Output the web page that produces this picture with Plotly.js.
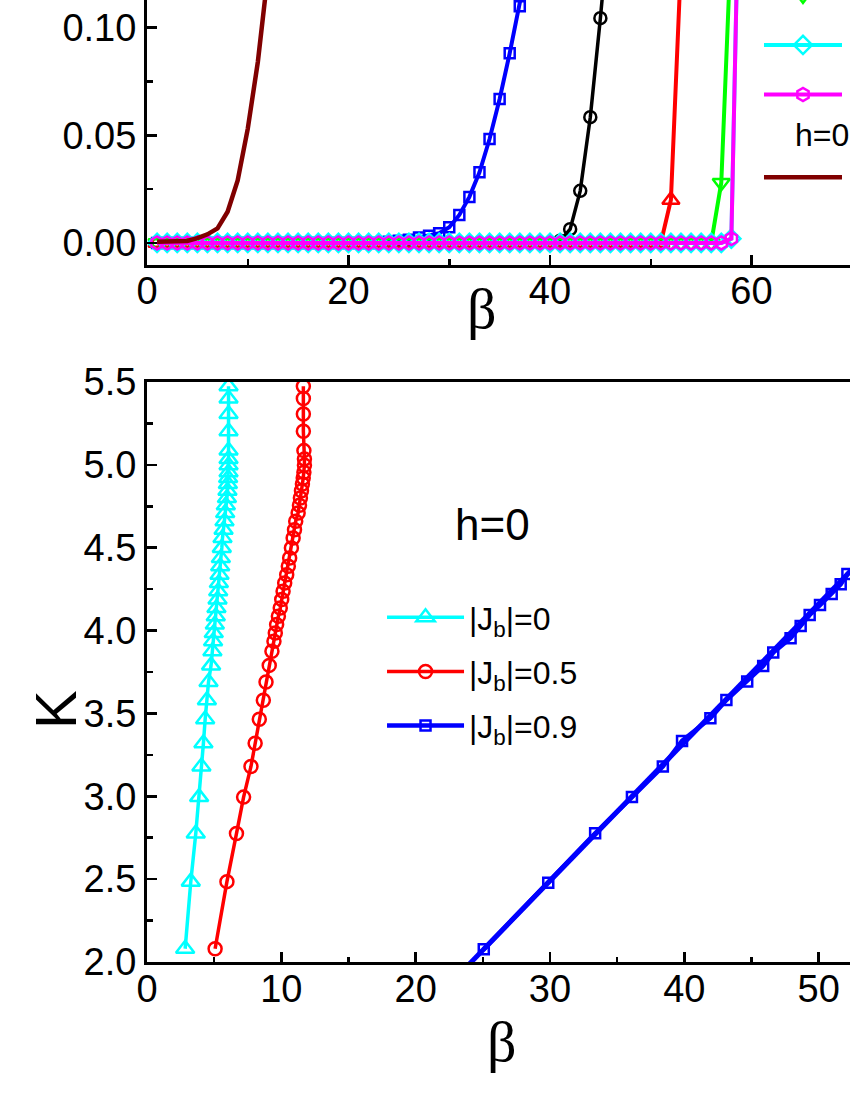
<!DOCTYPE html>
<html>
<head>
<meta charset="utf-8">
<script src="https://cdn.plot.ly/plotly-3.0.1.min.js"></script>
<style>
  html, body { margin: 0; padding: 0; overflow: hidden; background: #fff; }
  #plotDiv { position: absolute; left: 0; top: -10px; }
</style>
</head>
<body>
<div id="plotDiv"></div>
<script>
// ---- top panel: order parameter vs beta (integer beta steps) ----
var betaTop = [1,2,3,4,5,6,7,8,9,10,11,12,13,14,15,16,17,18,19,20,
  21,22,23,24,25,26,27,28,29,30,31,32,33,34,35,36,37,38,39,40,
  41,42,43,44,45,46,47,48,49,50,51,52,53,54,55,56,57,58,59];

var blueTop = [0,0,0,0,0,0,0,0,0,0,0,0,0,0,0,0,0,0,0,0,0,0,0,
  0.0005,0.001,0.0015,0.0025,0.0034,0.0045,0.0073,0.0130,0.0214,0.0328,0.0483,0.0669,0.0881,0.110,0.135];
var blackTop = [0,0,0,0,0,0,0,0,0,0,0,0,0,0,0,0,0,0,0,0,
  0,0,0,0,0,0,0,0,0,0,0,0,0,0,0,0,0,0,0,0,
  0.001,0.0064,0.0242,0.0584,0.1044,0.155];
var redTop = [0,0,0,0,0,0,0,0,0,0,0,0,0,0,0,0,0,0,0,0,
  0,0,0,0,0,0,0,0,0,0,0,0,0,0,0,0,0,0,0,0,
  0,0,0,0,0,0,0,0,0,0,0,0.020,0.13];
var greenTop = [0,0,0,0,0,0,0,0,0,0,0,0,0,0,0,0,0,0,0,0,
  0,0,0,0,0,0,0,0,0,0,0,0,0,0,0,0,0,0,0,0,
  0,0,0,0,0,0,0,0,0,0,0,0,0,0,0,0,0.028,0.143];
var cyanTop = [0,0,0,0,0,0,0,0,0,0,0,0,0,0,0,0,0,0,0,0,
  0,0,0,0,0,0,0,0,0,0,0,0,0,0,0,0,0,0,0,0,
  0,0,0,0,0,0,0,0,0,0,0,0,0,0,0,0,0,0.002,0.225];
var magentaTop = [0,0,0,0,0,0,0,0,0,0,0,0,0,0,0,0,0,0,0,0,
  0,0,0,0,0,0,0,0,0,0,0,0,0,0,0,0,0,0,0,0,
  0,0,0,0,0,0,0,0,0,0,0,0,0,0,0,0,0,0.002,0.225];
var darkRedTop = [0.0005,0.0005,0.0006,0.0009,0.0022,0.0040,0.0068,0.0145,0.0290,0.0530,0.0840,0.125];

// ---- bottom panel: K vs beta ----
var kCyan = [2.08,2.485,2.775,2.995,3.18,3.32,3.465,3.58,3.69,3.79,3.875,3.935,3.985,4.036,4.086,
  4.136,4.187,4.237,4.287,4.337,4.388,4.438,4.499,4.559,4.609,4.66,4.71,4.756,4.80,4.844,
  4.885,4.921,4.955,4.998,5.036,5.086,5.203,5.307,5.40,5.474];
var betaCyan = [2.84,3.26,3.63,3.88,4.05,4.20,4.33,4.46,4.58,4.77,4.87,4.92,4.97,5.05,5.12,
  5.17,5.25,5.30,5.35,5.40,5.45,5.50,5.57,5.62,5.70,5.77,5.82,5.87,5.95,5.99,
  6.02,6.04,6.07,6.07,6.07,6.07,6.07,6.07,6.07,6.07];
var kRed = kCyan;
var betaRed = [5.07,5.95,6.66,7.19,7.74,8.05,8.36,8.66,8.86,9.10,9.30,9.45,9.55,9.65,9.78,
  9.92,10.03,10.13,10.25,10.40,10.52,10.62,10.75,10.88,10.98,11.07,11.25,11.35,11.42,11.50,
  11.57,11.63,11.68,11.72,11.72,11.68,11.64,11.64,11.64,11.64];
var kBlue = [2.077,2.479,2.777,2.995,3.18,3.334,3.471,3.581,3.692,3.786,3.867,3.954,4.028,4.094,
  4.154,4.221,4.279,4.341,4.40,4.45];
var betaBlue = [25.07,29.87,33.36,36.1,38.4,39.83,41.94,43.13,44.68,45.87,46.62,47.91,48.66,49.33,
  50.1,50.97,51.64,52.14,52.8,53.4];
var fitBeta = [24.0, 60.0];
var fitK = [1.988, 4.997];

var legendNames = ['|J<sub>b</sub>|=0', '|J<sub>b</sub>|=0.5', '|J<sub>b</sub>|=0.9'];

function topTrace(y, color, symbol, size, lw, legend) {
  return {
    x: betaTop.slice(0, y.length), y: y, xaxis: 'x', yaxis: 'y',
    type: 'scatter', mode: 'lines+markers', name: '&nbsp;',
    line: {color: color, width: lw},
    marker: {symbol: symbol, size: size, color: color, line: {color: color, width: 2.5}},
    showlegend: !!legend, legend: legend || 'legend', legendgroup: color
  };
}

var data = [
  topTrace(blueTop, '#0000ff', 'square-open', 10, 4, null),
  topTrace(blackTop, '#000000', 'circle-open', 12, 3.5, null),
  topTrace(redTop, '#ff0000', 'triangle-up-open', 15, 4, null),
  topTrace(greenTop, '#00ff00', 'triangle-down-open', 15, 4, 'legend'),
  topTrace(cyanTop, '#00ffff', 'diamond-open', 14, 4, 'legend'),
  topTrace(magentaTop, '#ff00ff', 'hexagon-open', 13, 4, 'legend'),
  {
    x: betaTop.slice(0, darkRedTop.length), y: darkRedTop, xaxis: 'x', yaxis: 'y',
    type: 'scatter', mode: 'lines', name: '&nbsp;',
    line: {color: '#800000', width: 4.5}, legend: 'legend3'
  },
  {
    x: fitBeta, y: fitK, xaxis: 'x2', yaxis: 'y2', type: 'scatter', mode: 'lines',
    line: {color: '#0000ff', width: 5}, showlegend: false
  },
  {
    x: betaCyan, y: kCyan, xaxis: 'x2', yaxis: 'y2', type: 'scatter', mode: 'lines+markers',
    name: legendNames[0], legend: 'legend2', legendgroup: 'c',
    line: {color: '#00ffff', width: 3.5},
    marker: {symbol: 'triangle-up-open', size: 16, color: '#00ffff', line: {width: 2.5}}
  },
  {
    x: betaRed, y: kRed, xaxis: 'x2', yaxis: 'y2', type: 'scatter', mode: 'lines+markers',
    name: legendNames[1], legend: 'legend2', legendgroup: 'r',
    line: {color: '#ff0000', width: 3.5},
    marker: {symbol: 'circle-open', size: 13, color: '#ff0000', line: {width: 2.5}}
  },
  {
    x: betaBlue, y: kBlue, xaxis: 'x2', yaxis: 'y2', type: 'scatter', mode: 'lines+markers',
    name: legendNames[2], legend: 'legend2', legendgroup: 'b',
    line: {color: '#0000ff', width: 4.5},
    marker: {symbol: 'square-open', size: 10, color: '#0000ff', line: {width: 2.5}}
  }
];

var tickFont = {family: 'Liberation Sans, Arial, sans-serif', size: 38, color: '#000'};
function axis(extra) {
  var a = {
    showline: true, linecolor: '#000', linewidth: 3, mirror: true,
    ticks: 'inside', ticklen: 10, tickwidth: 2.5, tickcolor: '#000',
    showgrid: false, zeroline: false, tickfont: tickFont, fixedrange: true
  };
  for (var k in extra) a[k] = extra[k];
  return a;
}
var legFont = {family: 'Liberation Sans, Arial, sans-serif', size: 32, color: '#000'};

var layout = {
  width: 1000, height: 1110,
  margin: {l: 147, r: 47, t: 0, b: 138, autoexpand: false},
  paper_bgcolor: '#fff', plot_bgcolor: '#fff',
  xaxis: axis({anchor: 'y', range: [0, 80], tick0: 0, dtick: 20, ticklabelstandoff: -9,
    minor: {ticks: 'inside', dtick: 10, ticklen: 6, tickwidth: 2.5, tickcolor: '#000'}}),
  yaxis: axis({anchor: 'x', domain: [0.7174, 1], range: [-0.0101, 0.1175], tick0: 0, dtick: 0.05,
    tickformat: '.2f', minor: {ticks: 'inside', dtick: 0.025, ticklen: 6, tickwidth: 2.5, tickcolor: '#000'}}),
  xaxis2: axis({anchor: 'y2', range: [0, 60], tick0: 0, dtick: 10, ticklabelstandoff: -9,
    minor: {ticks: 'inside', dtick: 5, ticklen: 5, tickwidth: 2.5, tickcolor: '#000'}}),
  yaxis2: axis({anchor: 'x2', domain: [0, 0.5967], range: [2, 5.5], tick0: 2, dtick: 0.5,
    tickformat: '.1f', minor: {ticks: 'inside', dtick: 0.25, ticklen: 6, tickwidth: 2.5, tickcolor: '#000'}}),
  legend: {x: 0.7593, y: 1.0226, xanchor: 'left', yanchor: 'top', bgcolor: 'rgba(0,0,0,0)',
    font: legFont, itemwidth: 78, tracegroupgap: 5, traceorder: 'grouped'},
  legend3: {x: 0.7593, y: 0.8354, xanchor: 'left', yanchor: 'top', bgcolor: 'rgba(0,0,0,0)',
    font: legFont, itemwidth: 78},
  legend2: {x: 0.2916, y: 0.3827, xanchor: 'left', yanchor: 'top', bgcolor: 'rgba(0,0,0,0)',
    font: legFont, itemwidth: 77, tracegroupgap: 9.5, traceorder: 'grouped'},
  annotations: [
    {xref: 'paper', yref: 'paper', x: 0.4156, y: 0.6728, xanchor: 'center', yanchor: 'middle',
      text: 'β', showarrow: false,
      font: {family: 'Liberation Serif, Times New Roman, serif', size: 58, color: '#000'}},
    {xref: 'paper', yref: 'paper', x: 0.441, y: -0.0813, xanchor: 'center', yanchor: 'middle',
      text: 'β', showarrow: false,
      font: {family: 'Liberation Serif, Times New Roman, serif', size: 58, color: '#000'}},
    {xref: 'paper', yref: 'paper', x: -0.1129, y: 0.2593, xanchor: 'center', yanchor: 'middle',
      text: 'K', showarrow: false, textangle: -90,
      font: {family: 'Liberation Sans, Arial, sans-serif', size: 58, color: '#000'}},
    {xref: 'paper', yref: 'paper', x: 0.8015, y: 0.8508, xanchor: 'left', yanchor: 'middle',
      text: 'h=0', showarrow: false,
      font: {family: 'Liberation Sans, Arial, sans-serif', size: 32, color: '#000'}},
    {xref: 'paper', yref: 'paper', x: 0.3797, y: 0.4506, xanchor: 'left', yanchor: 'middle',
      text: 'h=0', showarrow: false,
      font: {family: 'Liberation Sans, Arial, sans-serif', size: 44, color: '#000'}}
  ],
  showlegend: true
};

Plotly.newPlot('plotDiv', data, layout, {staticPlot: true});
</script>
</body>
</html>
